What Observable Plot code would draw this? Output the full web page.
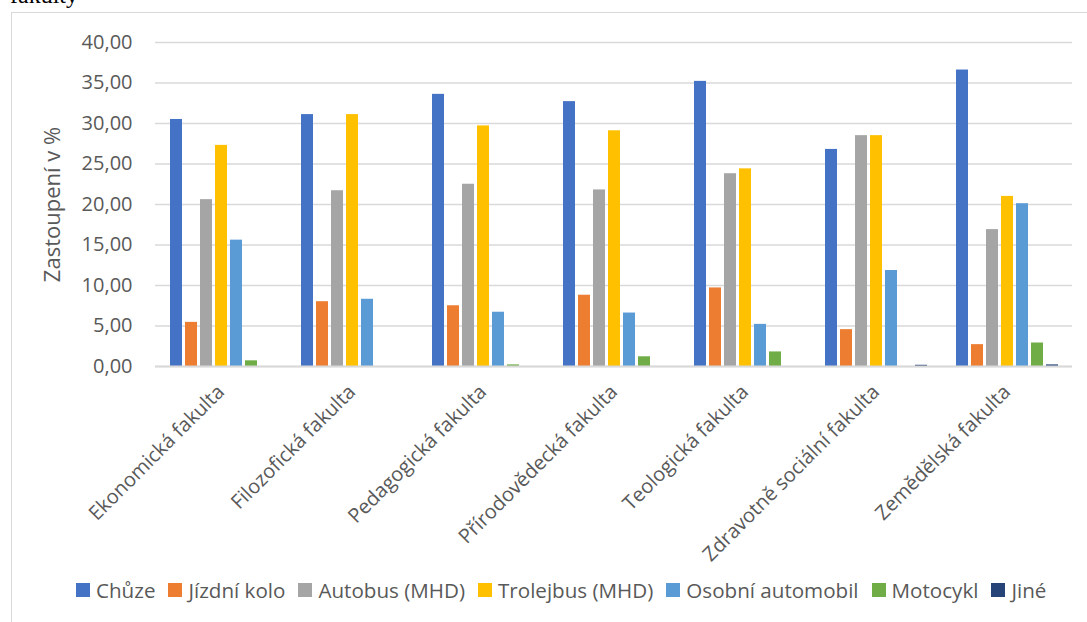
<!DOCTYPE html>
<html>
<head>
<meta charset="utf-8">
<script src="https://cdn.jsdelivr.net/npm/d3@7"></script>
<script src="https://cdn.jsdelivr.net/npm/@observablehq/plot@0.6"></script>
<style>
  html, body { margin: 0; padding: 0; background: #fff; }
  body { width: 1087px; height: 622px; position: relative; overflow: hidden; font-family: "Open Sans", sans-serif; }
  #above { position: absolute; left: 10px; top: -17px; font-family: "Liberation Serif", "DejaVu Serif", serif; font-size: 24px; line-height: 24px; color: #000; }
  #frame { position: absolute; left: 11px; top: 12px; width: 1200px; height: 700px; border-left: 1px solid #d9d9d9; border-top: 1px solid #d9d9d9; }
  #chart { position: absolute; left: 0; top: 0; }
  #legend { position: absolute; left: 76px; top: 578px; display: flex; font-size: 20.6px; color: #595959; line-height: 24px; }
  .item { display: flex; align-items: center; margin-right: 13px; white-space: nowrap; }
  .sw { width: 14px; height: 14px; margin-right: 6px; display: inline-block; }
</style>
</head>
<body>
<div id="above">fakulty</div>
<div id="frame"></div>
<div id="chart"></div>
<div id="legend"></div>
<script>
const faculties = ["Ekonomická fakulta", "Filozofická fakulta", "Pedagogická fakulta", "Přírodovědecká fakulta", "Teologická fakulta", "Zdravotně sociální fakulta", "Zemědělská fakulta"];
const modes = ["Chůze", "Jízdní kolo", "Autobus (MHD)", "Trolejbus (MHD)", "Osobní automobil", "Motocykl", "Jiné"];
const colors = ["#4472C4", "#ED7D31", "#A5A5A5", "#FFC000", "#5B9BD5", "#70AD47", "#264478"];
const chuze     = [30.5, 31.1, 33.6, 32.7, 35.2, 26.8, 36.6];
const kolo      = [5.45, 8.0, 7.5, 8.8, 9.7, 4.55, 2.7];
const autobus   = [20.6, 21.7, 22.5, 21.8, 23.8, 28.5, 16.9];
const trolejbus = [27.3, 31.1, 29.7, 29.1, 24.4, 28.5, 21.0];
const osobni    = [15.6, 8.3, 6.7, 6.6, 5.2, 11.85, 20.1];
const motocykl  = [0.7, 0, 0.2, 1.2, 1.8, 0, 2.9];
const jine      = [0, 0, 0, 0, 0, 0.15, 0.2];
const yTicks = [0, 5, 10, 15, 20, 25, 30, 35, 40];

const series = [chuze, kolo, autobus, trolejbus, osobni, motocykl, jine];
const data = [];
faculties.forEach((f, i) => {
  modes.forEach((m, j) => data.push({faculty: f, mode: m, value: series[j][i]}));
});

const fmt = d => d.toFixed(2).replace(".", ",");
const font = "'Open Sans', sans-serif";

const chart = Plot.plot({
  width: 1087,
  height: 590,
  marginLeft: 153,
  marginRight: 13,
  marginTop: 42,
  marginBottom: 224,
  style: {fontFamily: font, fontSize: "20px", color: "#595959", background: "transparent", overflow: "visible"},
  fx: {domain: faculties, padding: 0, label: null, tickRotate: -45, tickSize: 0, tickPadding: 22},
  x: {domain: modes, paddingInner: 0.2, paddingOuter: 0.9, axis: null},
  y: {domain: [0, 40], ticks: yTicks, tickFormat: fmt, tickSize: 0, tickPadding: 23,
      label: "Zastoupení v %", labelAnchor: "center", labelOffset: 111, labelArrow: false},
  color: {domain: modes, range: colors},
  marks: [
    Plot.gridY(yTicks, {stroke: "#d9d9d9", strokeOpacity: 1, strokeWidth: 1.5}),
    Plot.barY(data, {fx: "faculty", x: "mode", y: "value", fill: "mode"}),
    Plot.ruleY([0], {stroke: "#d9d9d9", strokeWidth: 2})
  ]
});
document.getElementById("chart").appendChild(chart);
d3.select(chart).selectAll("g[aria-label='y-axis label']").attr("font-size", "22px");

const color = chart.scale("color");
const legend = document.getElementById("legend");
color.domain.forEach((m, i) => {
  const it = document.createElement("div");
  it.className = "item";
  const sw = document.createElement("span");
  sw.className = "sw";
  sw.style.background = color.range[i];
  const t = document.createElement("span");
  t.textContent = m;
  it.appendChild(sw); it.appendChild(t);
  legend.appendChild(it);
});
</script>
</body>
</html>
